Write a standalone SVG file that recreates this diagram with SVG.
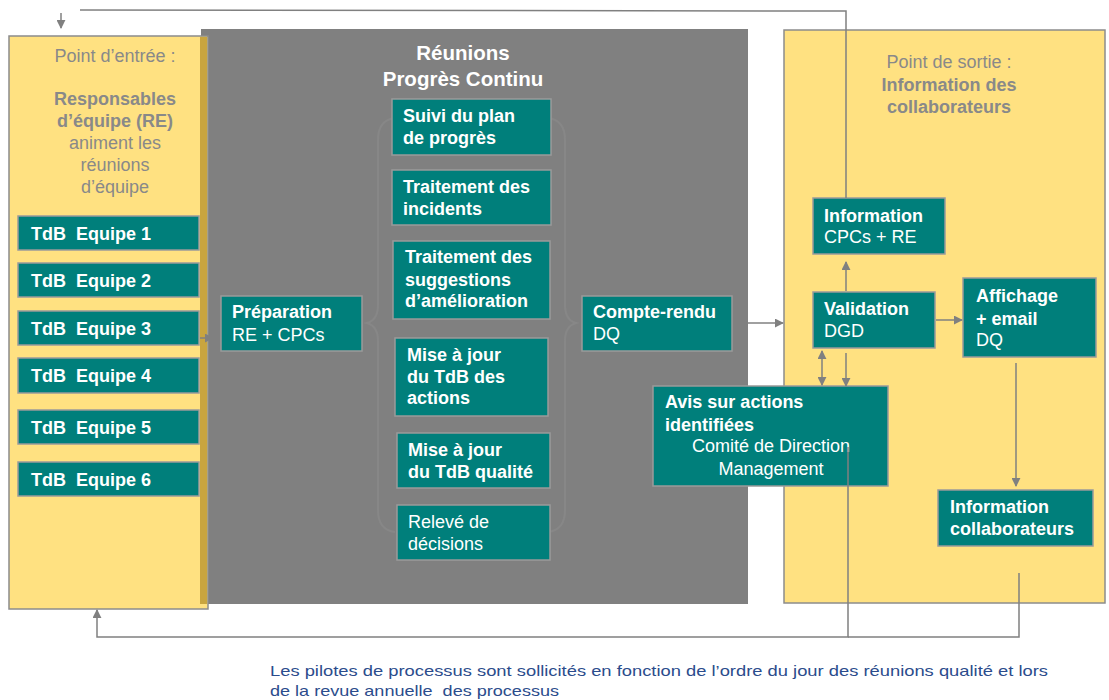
<svg xmlns="http://www.w3.org/2000/svg" width="1109" height="700" viewBox="0 0 1109 700">
<style>
text{white-space:pre}
.panel{fill:#FFE181;stroke:#8C8C8C;stroke-width:1.5}
.box{fill:#007F7B;stroke:#9A9A9A;stroke-width:1.5}
.t{font-family:"Liberation Sans",Arial,sans-serif;font-size:18px;fill:#FFFFFF}
.b{font-weight:bold}
.pt{font-family:"Liberation Sans",Arial,sans-serif;font-size:18px;fill:#898989;text-anchor:middle}
.title{font-family:"Liberation Sans",Arial,sans-serif;font-size:20.5px;font-weight:bold;fill:#FFFFFF;text-anchor:middle}
.c{fill:none;stroke:#808080;stroke-width:1.5}
.brace{fill:none;stroke:#878787;stroke-width:2}
.note{font-family:"Liberation Sans",Arial,sans-serif;font-size:15px;fill:#2B4C8C}
</style>
<defs>
<marker id="ah" viewBox="0 0 10 10" refX="9" refY="5" markerWidth="9" markerHeight="9" markerUnits="userSpaceOnUse" orient="auto-start-reverse">
<path d="M0,0 L10,5 L0,10 z" fill="#808080"/>
</marker>
</defs>

<g id="panel-reunions">
<rect x="201" y="29" width="547" height="575" fill="#808080"/>
<path class="brace" d="M395,118 Q378,120 378,140 L378,305 Q378,320 367,323 Q378,326 378,341 L378,510 Q378,530 395,532"/>
<path class="brace" d="M548,118 Q565,120 565,140 L565,305 Q565,320 576,323 Q565,326 565,341 L565,510 Q565,530 548,532"/>
<text class="title" x="463" y="60">Réunions</text>
<text class="title" x="463" y="86">Progrès Continu</text>
</g>

<g id="panel-entree">
<rect class="panel" x="9" y="36" width="199" height="573"/>
<rect x="200" y="37" width="7" height="567" fill="#C9A53F"/>
<text class="pt" x="115" y="62">Point d’entrée :</text>
<text class="pt b" x="115" y="105">Responsables</text>
<text class="pt b" x="115" y="127">d’équipe (RE)</text>
<text class="pt" x="115" y="149">animent les</text>
<text class="pt" x="115" y="171">réunions</text>
<text class="pt" x="115" y="193">d’équipe</text>
</g>

<g id="panel-sortie">
<rect class="panel" x="784" y="30" width="321" height="573"/>
<text class="pt" x="949" y="68">Point de sortie :</text>
<text class="pt b" x="949" y="91">Information des</text>
<text class="pt b" x="949" y="113">collaborateurs</text>
</g>

<g id="tdb1"><rect class="box" x="18" y="216" width="181" height="34"/><text class="t b" x="31" y="240">TdB  Equipe 1</text></g>
<g id="tdb2"><rect class="box" x="18" y="263" width="181" height="34"/><text class="t b" x="31" y="287">TdB  Equipe 2</text></g>
<g id="tdb3"><rect class="box" x="18" y="311" width="181" height="34"/><text class="t b" x="31" y="335">TdB  Equipe 3</text></g>
<g id="tdb4"><rect class="box" x="18" y="358" width="181" height="35"/><text class="t b" x="31" y="382">TdB  Equipe 4</text></g>
<g id="tdb5"><rect class="box" x="18" y="410" width="181" height="34"/><text class="t b" x="31" y="434">TdB  Equipe 5</text></g>
<g id="tdb6"><rect class="box" x="18" y="462" width="181" height="34"/><text class="t b" x="31" y="486">TdB  Equipe 6</text></g>

<g id="preparation"><rect class="box" x="221" y="296" width="141" height="55"/>
<text class="t b" x="232" y="318">Préparation</text><text class="t" x="232" y="341">RE + CPCs</text></g>

<g id="suivi"><rect class="box" x="392" y="99" width="159" height="56"/>
<text class="t b" x="403" y="122">Suivi du plan</text><text class="t b" x="403" y="144">de progrès</text></g>

<g id="incidents"><rect class="box" x="392" y="170" width="159" height="55"/>
<text class="t b" x="403" y="193">Traitement des</text><text class="t b" x="403" y="215">incidents</text></g>

<g id="suggestions"><rect class="box" x="393" y="241" width="157" height="78"/>
<text class="t b" x="405" y="263">Traitement des</text><text class="t b" x="405" y="286">suggestions</text><text class="t b" x="405" y="307">d’amélioration</text></g>

<g id="maj-actions"><rect class="box" x="395" y="338" width="153" height="78"/>
<text class="t b" x="407" y="361">Mise à jour</text><text class="t b" x="407" y="383">du TdB des</text><text class="t b" x="407" y="404">actions</text></g>

<g id="maj-qualite"><rect class="box" x="397" y="433" width="153" height="55"/>
<text class="t b" x="408" y="456">Mise à jour</text><text class="t b" x="408" y="478">du TdB qualité</text></g>

<g id="releve"><rect class="box" x="397" y="505" width="153" height="55"/>
<text class="t" x="408" y="528">Relevé de</text><text class="t" x="408" y="550">décisions</text></g>

<g id="compte-rendu"><rect class="box" x="582" y="296" width="150" height="55"/>
<text class="t b" x="593" y="318">Compte-rendu</text><text class="t" x="593" y="340">DQ</text></g>

<g id="information"><rect class="box" x="813" y="198" width="132" height="56"/>
<text class="t b" x="824" y="222">Information</text><text class="t" x="824" y="243">CPCs + RE</text></g>

<g id="validation"><rect class="box" x="813" y="292" width="122" height="56"/>
<text class="t b" x="824" y="315">Validation</text><text class="t" x="824" y="337">DGD</text></g>

<g id="affichage"><rect class="box" x="963" y="278" width="133" height="79"/>
<text class="t b" x="976" y="302">Affichage</text><text class="t b" x="976" y="325">+ email</text><text class="t" x="976" y="346">DQ</text></g>

<g id="avis"><rect class="box" x="653" y="386" width="235" height="100"/>
<text class="t b" x="665" y="408">Avis sur actions</text><text class="t b" x="665" y="431">identifiées</text>
<text class="t" x="771" y="452" text-anchor="middle">Comité de Direction</text><text class="t" x="771" y="475" text-anchor="middle">Management</text></g>

<g id="info-collab"><rect class="box" x="938" y="490" width="155" height="56"/>
<text class="t b" x="950" y="513">Information</text><text class="t b" x="950" y="535">collaborateurs</text></g>

<g id="connectors">
<polyline class="c" points="80,10 846,11 846,198"/>
<line class="c" x1="61" y1="13" x2="61" y2="28" marker-end="url(#ah)"/>
<line class="c" x1="200" y1="338" x2="213" y2="338" marker-end="url(#ah)"/>
<line class="c" x1="741" y1="323" x2="783" y2="323" marker-end="url(#ah)"/>
<line class="c" x1="846" y1="291" x2="846" y2="262" marker-end="url(#ah)"/>
<line class="c" x1="936" y1="320" x2="962" y2="320" marker-end="url(#ah)"/>
<line class="c" x1="822" y1="351" x2="822" y2="385" marker-start="url(#ah)" marker-end="url(#ah)"/>
<line class="c" x1="846" y1="353" x2="846" y2="386" marker-end="url(#ah)"/>
<line class="c" x1="1016" y1="363" x2="1016" y2="486" marker-end="url(#ah)"/>
<polyline class="c" points="848,447 848,637 97,637 97,610" marker-end="url(#ah)"/>
<polyline class="c" points="1019,573 1019,637 848,637"/>
</g>

<g id="note">
<text class="note" x="270" y="676" textLength="778" lengthAdjust="spacingAndGlyphs">Les pilotes de processus sont sollicités en fonction de l’ordre du jour des réunions qualité et lors</text>
<text class="note" x="270" y="696" textLength="289" lengthAdjust="spacingAndGlyphs">de la revue annuelle  des processus</text>
</g>
</svg>
